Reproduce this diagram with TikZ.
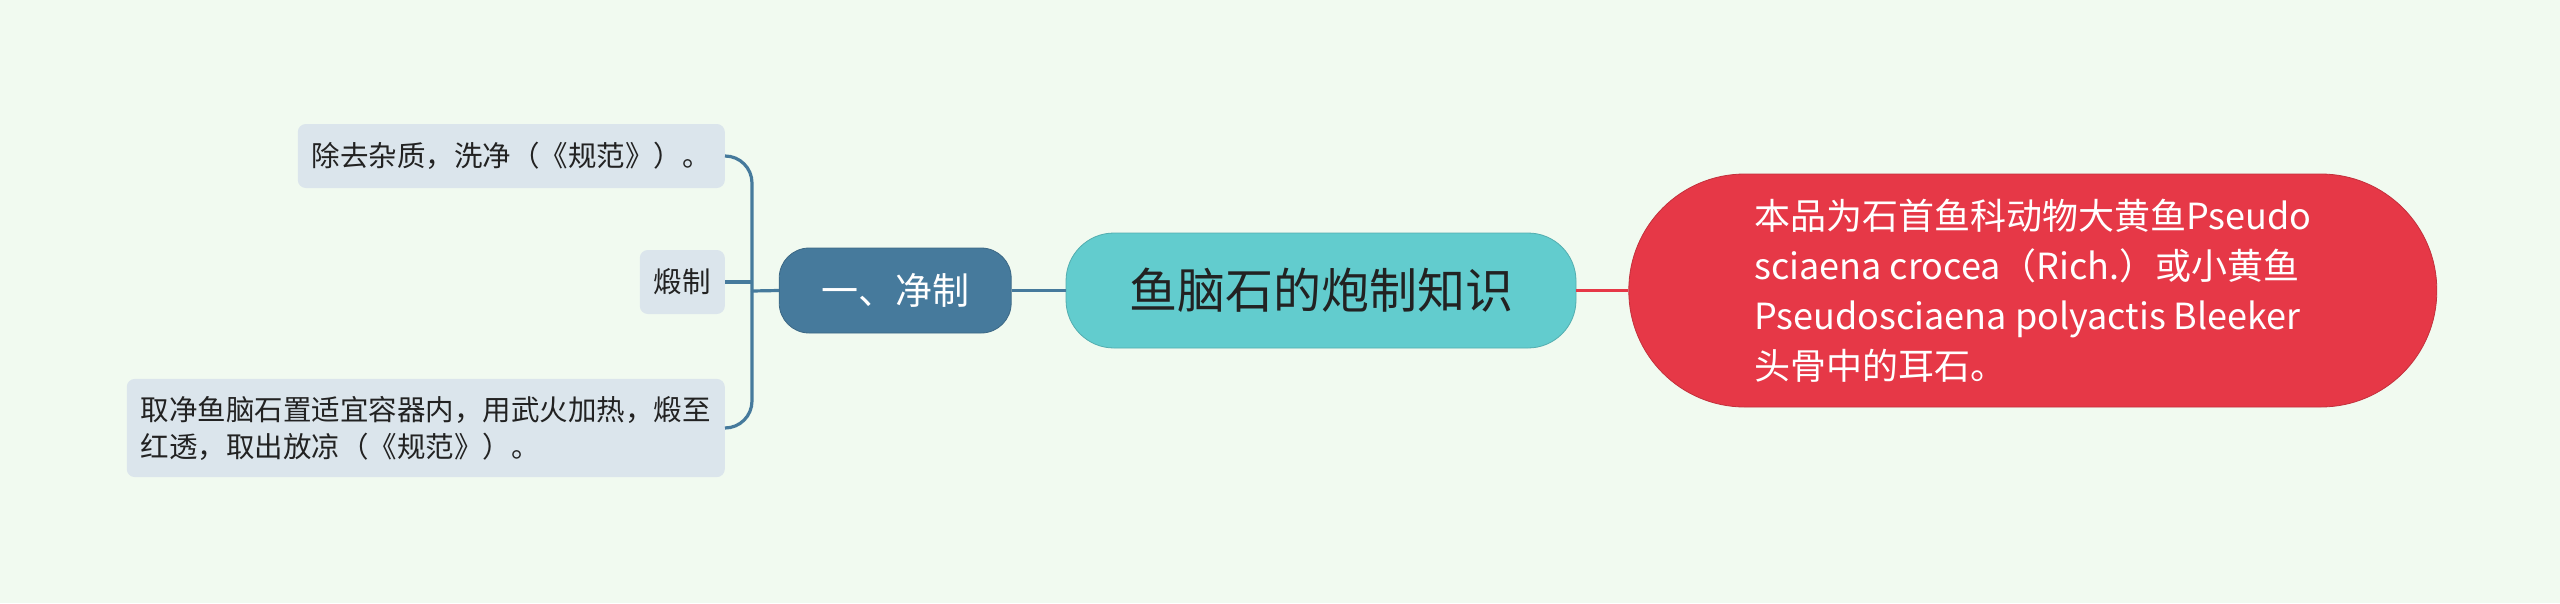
\documentclass[tikz,border=0pt]{standalone}
\usepackage{fontspec}
\setmainfont{Noto Sans CJK SC}
\usepackage{tikz}
\usetikzlibrary{positioning,calc}
\definecolor{bgcol}{HTML}{F1FAF0}
\definecolor{leafcol}{HTML}{DBE5EC}
\definecolor{bluecol}{HTML}{467A9C}
\definecolor{tealcol}{HTML}{62CCCE}
\definecolor{redcol}{HTML}{E63847}
\definecolor{darktext}{HTML}{222222}
\begin{document}
\begin{tikzpicture}[
				x=1pt,y=-1pt,
				node distance=54pt,
				main node/.style={draw=tealcol!85!black,line width=0.8pt,fill=tealcol,rounded corners=48pt,minimum width=510pt,minimum height=115pt,text=darktext,font=\fontsize{48pt}{58pt}\selectfont},
				branch node/.style={draw=bluecol!85!black,line width=0.8pt,fill=bluecol,rounded corners=30pt,minimum width=232pt,minimum height=85pt,text=white,font=\fontsize{37pt}{44pt}\selectfont},
				note node/.style={draw=redcol!85!black,line width=0.8pt,fill=redcol,rounded corners=116pt,minimum width=808pt,minimum height=233pt,text=white,align=left,font=\fontsize{36pt}{50pt}\selectfont},
				leaf node/.style={fill=leafcol,rounded corners=8pt,inner xsep=14pt,inner ysep=17pt,minimum height=64pt,anchor=east,text=darktext,align=left,font=\fontsize{28.5pt}{37pt}\selectfont},
				blue line/.style={draw=bluecol,line width=3.2pt},
				red line/.style={draw=redcol,line width=3.2pt}
				]
		\fill[bgcol] (0,0) rectangle (2560,603);
		\useasboundingbox (0,0) rectangle (2560,603);
		% centre and its two sides
		\node[main node] (c) at (1321,290.5) {鱼脑石的炮制知识};
		\node[branch node] (b) [left=54pt of c] {一、净制};
		\node[note node] (r) [right=52pt of c] {本品为石首鱼科动物大黄鱼Pseudo\\sciaena crocea（Rich.）或小黄鱼\\Pseudosciaena polyactis Bleeker\\头骨中的耳石。};
		% leaves
		\node[leaf node] (l1) at (725,156) {除去杂质，洗净（《规范》）。};
		\node[leaf node] (l2) at (725,282) {煅制};
		\node[leaf node] (l3) at (725,428) {取净鱼脑石置适宜容器内，用武火加热，煅至\\红透，取出放凉（《规范》）。};
		\coordinate (j) at (752,291);
		\draw[blue line] (b) -- (c);
		\draw[red line] (c) -- (r);
		\draw[blue line] (b.west) -- (j);
		\draw[blue line,rounded corners=27pt] (j) |- (l1.east);
		\draw[blue line,rounded corners=27pt] (j) |- (l3.east);
		\draw[blue line] (j |- l2.east) -- (l2.east);
\end{tikzpicture}
\end{document}
